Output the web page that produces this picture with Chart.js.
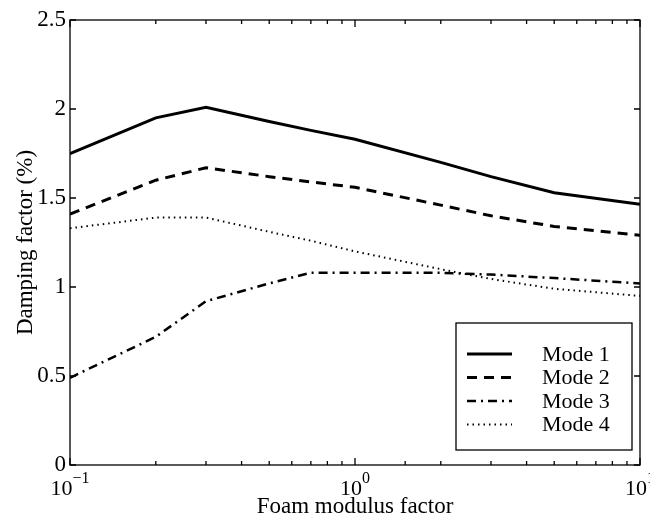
<!DOCTYPE html>
<html>
<head>
<meta charset="utf-8">
<script src="https://cdn.jsdelivr.net/npm/chart.js@4.4.1/dist/chart.umd.min.js"></script>
<style>
  html, body { margin: 0; padding: 0; background: #fff; }
  #wrap { width: 650px; height: 518px; }
</style>
</head>
<body>
<div id="wrap"><canvas id="damping-chart" width="650" height="518"></canvas></div>
<script>
// Values
const foamFactor = [0.1, 0.2, 0.3, 0.5, 0.7, 1, 2, 3, 5, 10];
const mode1 = [1.75, 1.95, 2.01, 1.93, 1.88, 1.83, 1.70, 1.62, 1.53, 1.465];
const mode2 = [1.41, 1.60, 1.67, 1.62, 1.59, 1.56, 1.46, 1.40, 1.34, 1.29];
const mode3 = [0.49, 0.72, 0.92, 1.02, 1.08, 1.08, 1.08, 1.07, 1.05, 1.02];
const mode4 = [1.33, 1.39, 1.39, 1.31, 1.26, 1.20, 1.10, 1.045, 0.99, 0.95];
const modeNames = ['Mode 1', 'Mode 2', 'Mode 3', 'Mode 4'];
const yTicks = [0, 0.5, 1, 1.5, 2, 2.5];

const serif = '"Liberation Serif", "DejaVu Serif", serif';

function points(vals) {
    return foamFactor.map((f, i) => ({ x: f, y: vals[i] }));
}

const styles = [
    { dash: [], width: 3 },
    { dash: [10, 7], width: 3 },
    { dash: [9, 5, 2, 5], width: 2.5 },
    { dash: [1.5, 4], width: 2 }
];

const datasets = [mode1, mode2, mode3, mode4].map((vals, i) => ({
    label: modeNames[i],
    data: points(vals),
    borderColor: '#000',
    borderWidth: styles[i].width,
    borderDash: styles[i].dash,
    pointRadius: 0,
    tension: 0,
    fill: false
}));

// Box, inside ticks, power-of-ten labels and the legend box
const matlabAxes = {
    id: 'matlabAxes',
    afterDraw(chart) {
        const c = chart.ctx;
        const a = chart.chartArea;
        const xs = chart.scales.x;
        const ys = chart.scales.y;
        c.save();
        c.strokeStyle = '#000';
        c.lineWidth = 1.3;
        c.setLineDash([]);
        c.strokeRect(a.left, a.top, a.right - a.left, a.bottom - a.top);

        // y ticks on both sides
        ys.ticks.forEach(t => {
            const y = ys.getPixelForValue(t.value);
            c.beginPath();
            c.moveTo(a.left, y); c.lineTo(a.left + 6, y);
            c.moveTo(a.right, y); c.lineTo(a.right - 6, y);
            c.stroke();
        });

        // x ticks (major and minor) top and bottom
        xs.ticks.forEach(t => {
            const x = xs.getPixelForValue(t.value);
            const lg = Math.log10(t.value);
            const major = Math.abs(lg - Math.round(lg)) < 1e-6;
            const len = major ? 7 : 4;
            c.beginPath();
            c.moveTo(x, a.bottom); c.lineTo(x, a.bottom - len);
            c.moveTo(x, a.top); c.lineTo(x, a.top + len);
            c.stroke();
            if (major) {
                const p = Math.round(lg);
                c.fillStyle = '#000';
                c.font = '22px ' + serif;
                const base = '10';
                const exp = String(p).replace('-', '\u2212');
                const bw = c.measureText(base).width;
                c.font = '16px ' + serif;
                const ew = c.measureText(exp).width;
                const x0 = x - (bw + ew) / 2;
                c.textBaseline = 'alphabetic';
                c.textAlign = 'left';
                c.font = '22px ' + serif;
                c.fillText(base, x0, a.bottom + 30);
                c.font = '16px ' + serif;
                c.fillText(exp, x0 + bw, a.bottom + 18);
            }
        });

        // legend
        const lx = 456, ly = 323, lw = 176, lh = 127;
        c.fillStyle = '#fff';
        c.fillRect(lx, ly, lw, lh);
        c.lineWidth = 1.3;
        c.strokeRect(lx, ly, lw, lh);
        chart.data.datasets.forEach((ds, i) => {
            const y = 354 + i * 23.5;
            c.beginPath();
            c.strokeStyle = ds.borderColor;
            c.lineWidth = ds.borderWidth;
            c.setLineDash(ds.borderDash);
            c.moveTo(467, y); c.lineTo(512, y);
            c.stroke();
            c.setLineDash([]);
            c.fillStyle = '#000';
            c.font = '22px ' + serif;
            c.textAlign = 'left';
            c.textBaseline = 'middle';
            c.fillText(ds.label, 542, y + 1);
        });
        c.restore();
    }
};

const ctx = document.getElementById('damping-chart').getContext('2d');
const dampingChart = new Chart(ctx, {
    type: 'line',
    data: { datasets: datasets },
    plugins: [matlabAxes],
    options: {
        responsive: false,
        animation: false,
        layout: { padding: { top: 20, right: 10, left: 0, bottom: 0 } },
        plugins: { legend: { display: false }, tooltip: { enabled: false } },
        scales: {
            x: {
                type: 'logarithmic',
                min: 0.1,
                max: 10,
                grid: { display: false },
                border: { display: false },
                ticks: { display: false },
                title: {
                    display: true,
                    text: 'Foam modulus factor',
                    color: '#000',
                    font: { family: serif, size: 23, lineHeight: 1.0 },
                    padding: { top: 0, bottom: 0 }
                },
                afterFit(scale) { scale.height = 53; }
            },
            y: {
                min: 0,
                max: 2.5,
                afterBuildTicks(scale) {
                    scale.ticks = yTicks.map(v => ({ value: v }));
                },
                grid: { display: false, drawTicks: false },
                border: { display: false },
                ticks: {
                    color: '#000',
                    padding: 4,
                    font: { family: serif, size: 23 },
                    callback: v => String(v)
                },
                title: {
                    display: true,
                    text: 'Damping factor (%)',
                    color: '#000',
                    font: { family: serif, size: 23 },
                    padding: { top: 12, bottom: 0 }
                },
                afterFit(scale) { scale.width = 70; }
            }
        }
    }
});
</script>
</body>
</html>
